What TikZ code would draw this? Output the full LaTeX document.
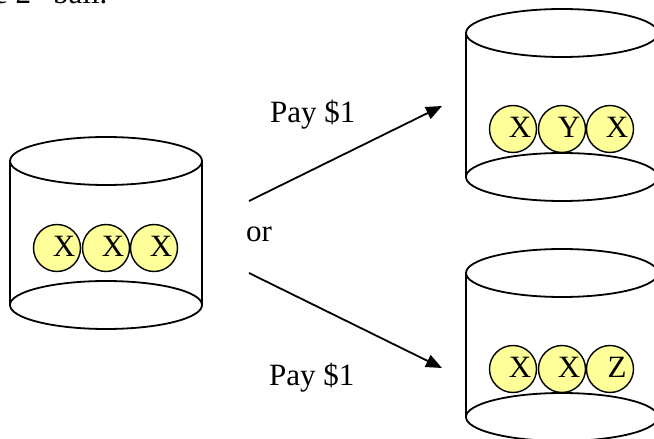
\documentclass[tikz,border=0pt]{standalone}
\usepackage{fontspec}
\setmainfont{Liberation Serif}
\usetikzlibrary{arrows.meta}

\definecolor{ballyellow}{HTML}{FFFF99}
\tikzset{
  outline/.style={line width=1.8pt},
  txt/.style={font=\fontsize{31}{37}\selectfont, inner sep=0pt},
  ball/.style={circle, draw, line width=1.4pt, fill=ballyellow,
    minimum size=47pt, inner sep=0pt,
    label={[txt, xshift=7pt, yshift=2pt]center:#1}},
  flow/.style={line width=1.8pt, -{Triangle[length=16pt,width=13pt]}},
  can/.pic={
    \draw[outline] (0,0) ellipse [x radius=96, y radius=24];
    \draw[outline] (0,144) ellipse [x radius=96, y radius=24];
    \draw[outline] (-96,0) -- (-96,144);
    \draw[outline] (96,0) -- (96,144);
  }
}

\begin{document}
\begin{tikzpicture}[x=1pt, y=-1pt]
  \clip (0,0) rectangle (654,439);
  \useasboundingbox (0,0) rectangle (654,439);

  % trailing line of the text above
  \node[txt, anchor=base west] (head) at (-6,3) {e 2\hspace{22pt}ball.};

  % containers
  \pic at (106,161) {can};
  \pic at (562,33) {can};
  \pic at (562,273) {can};

  % starting contents
  \node[ball=X] (a1) at (57,248) {};
  \node[ball=X] (a2) at (106,248) {};
  \node[ball=X] (a3) at (154,248) {};

  % outcome after the upper payment
  \node[ball=X] (b1) at (513,129) {};
  \node[ball=Y] (b2) at (562,129) {};
  \node[ball=X] (b3) at (610,129) {};

  % outcome after the lower payment
  \node[ball=X] (c1) at (513,369) {};
  \node[ball=X] (c2) at (562,369) {};
  \node[ball=Z] (c3) at (610,369) {};

  % transitions
  \coordinate (s1) at (249,201);
  \coordinate (e1) at (442,106);
  \coordinate (s2) at (249,273);
  \coordinate (e2) at (442,368);
  \draw[flow] (s1) -- (e1);
  \draw[flow] (s2) -- (e2);

  \node[txt, anchor=base west] (p1) at (270,122) {Pay \$1};
  \node[txt, anchor=base west] (p2) at (269,385) {Pay \$1};
  \node[txt, anchor=base west] (or) at (246,241) {or};
\end{tikzpicture}
\end{document}
